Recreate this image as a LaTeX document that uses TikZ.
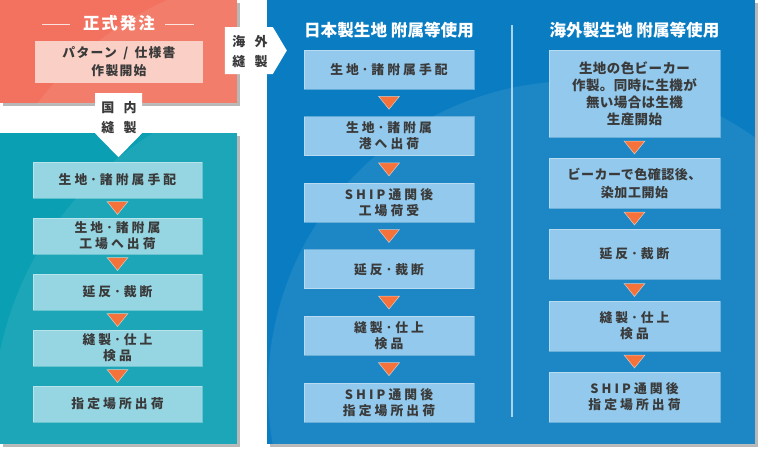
\documentclass[tikz,border=0pt]{standalone}
\usepackage{fontspec}
\setmainfont{Noto Sans CJK JP}
\usetikzlibrary{positioning,calc,shadows}

\definecolor{redbg}{HTML}{F2725F}
\definecolor{redin}{HTML}{FAD0C6}
\definecolor{tealbg}{HTML}{0A9FB3}
\definecolor{tealin}{HTML}{95D6E2}
\definecolor{bluebg}{HTML}{0A7DC2}
\definecolor{bluein}{HTML}{92C9EC}
\definecolor{trifill}{HTML}{F5733A}
\definecolor{textgray}{HTML}{3A3A3A}
\definecolor{shadowgray}{HTML}{B8B8B8}
\definecolor{divline}{HTML}{A9D3F0}

\newcommand{\boxfont}{\fontsize{12.8}{16}\selectfont\bfseries\addfontfeature{LetterSpace=24}}
\newcommand{\titlefont}{\fontsize{16.6}{18}\selectfont\bfseries}
\newcommand{\tagfont}{\fontsize{13}{20}\selectfont\bfseries\addfontfeature{LetterSpace=70}}

\tikzset{
  panel/.style={inner sep=0pt, drop shadow={shadow xshift=3pt, shadow yshift=-3pt, fill=shadowgray, opacity=1}},
  stepbox/.style={inner sep=0pt, text=textgray, font=\boxfont, align=center, draw=white, draw opacity=0.35, line width=0.8pt},
  tealbox/.style={stepbox, fill=tealin, minimum width=169pt, minimum height=36pt},
  bluebox/.style={stepbox, fill=bluein, minimum width=170pt, minimum height=39pt},
  seabox/.style={stepbox, fill=bluein, minimum width=171pt},
  downtri/.style={fill=trifill, draw=white, draw opacity=0.6, line width=0.5pt},
  tag/.style={fill=white},
  taglabel/.style={text=textgray, font=\tagfont, align=center, inner sep=0pt},
  shine/.style={fill=white, fill opacity=0.08}
}

\begin{document}
\begin{tikzpicture}[x=1pt, y=-1pt]
\useasboundingbox (0,0) rectangle (760,450);

% panels
\node[panel, fill=bluebg, minimum width=488pt, minimum height=444pt] (sea) at (511,222) {};
\node[panel, fill=tealbg, minimum width=237pt, minimum height=311pt] (home) at (118.5,288.5) {};
\node[panel, fill=redbg, minimum width=237pt, minimum height=103pt] (order) at (118.5,51.5) {};

\begin{scope}
\clip (sea.north west) rectangle (sea.south east);
\fill[shine] (577,390) circle (309);
\end{scope}
\begin{scope}
\clip (home.north west) rectangle (home.south east);
\fill[shine] (330,420) circle (337);
\end{scope}
\begin{scope}
\clip (order.north west) rectangle (order.south east);
\fill[shine] (300,300) circle (328);
\end{scope}

% order
\node[text=white, font=\fontsize{16.5}{18}\selectfont\bfseries\addfontfeature{LetterSpace=12}] (ordertitle) at (119,23) {正式発注};
\draw[white, opacity=0.8, line width=0.6pt] (42,24) -- (70,24);
\draw[white, opacity=0.8, line width=0.6pt] (165,24) -- (194,24);
\node[stepbox, fill=redin, draw=none, minimum width=168pt, minimum height=42pt, font=\fontsize{12.8}{18.5}\selectfont\bfseries\addfontfeature{LetterSpace=10}] (pattern) at (119,61.5) {パターン\hspace{0.5em}/\hspace{0.5em}仕様書\\作製開始};

% domestic
\node[tealbox] (h1) at (117.5,180) {生地･諸附属手配};
\node[tealbox] (h2) at (117.5,236) {生地･諸附属\\工場へ出荷};
\node[tealbox] (h3) at (117.5,292) {延反･裁断};
\node[tealbox] (h4) at (117.5,348) {縫製･仕上\\検品};
\node[tealbox] (h5) at (117.5,404) {指定場所出荷};

% overseas, japanese fabric
\node[text=white, font=\titlefont] (jtitle) at (389,30) {日本製生地 附属等使用};
\node[bluebox] (j1) at (389,69.5) {生地･諸附属手配};
\node[bluebox] (j2) at (389,136.1) {生地･諸附属\\港へ出荷};
\node[bluebox] (j3) at (389,202.7) {SHIP通関後\\工場荷受};
\node[bluebox] (j4) at (389,269.3) {延反･裁断};
\node[bluebox] (j5) at (389,335.9) {縫製･仕上\\検品};
\node[bluebox] (j6) at (389,402.5) {SHIP通関後\\指定場所出荷};

% overseas, foreign fabric
\node[text=white, font=\titlefont] (ftitle) at (634.5,30) {海外製生地 附属等使用};
\node[seabox, minimum height=87pt, font=\fontsize{13.5}{17}\selectfont\bfseries\addfontfeature{LetterSpace=3}] (f1) at (634.5,93.5) {生地の色ビーカー\\作製。同時に生機が\\無い場合は生機\\生産開始};
\node[seabox, minimum height=50pt, font=\fontsize{13}{18}\selectfont\bfseries\addfontfeature{LetterSpace=4}] (f2) at (634.5,183) {ビーカーで色確認後、\\染加工開始};
\node[seabox, minimum height=50pt] (f3) at (634.5,254) {延反･裁断};
\node[seabox, minimum height=50pt] (f4) at (634.5,326) {縫製･仕上\\検品};
\node[seabox, minimum height=50pt] (f5) at (634.5,397) {SHIP通関後\\指定場所出荷};

\coordinate (divtop) at (512,25);
\coordinate (divbot) at (512,417);
\draw[divline, line width=1.5pt] (divtop) -- (divbot);

% orange steps
\foreach \a/\b in {h1/h2, h2/h3, h3/h4, h4/h5, j1/j2, j2/j3, j3/j4, j4/j5, j5/j6, f1/f2, f2/f3, f3/f4, f4/f5}
  \draw[downtri] ($(\a.south)!0.5!(\b.north)$) +(-10.5,-6.5) -- +(10.5,-6.5) -- +(0,6.5) -- cycle;

% white tags
\fill[tag] (order.south) ++(-23.5,-10) -- ++(47,0) -- ++(0,40) -- ++(-23.5,24) -- ++(-23.5,-24) -- cycle;
\node[taglabel] (domtag) at (119,118) {国内\\縫製};
\fill[tag] (sea.west) ++(-42,-195) -- ++(48,0) -- ++(14,23.5) -- ++(-14,23.5) -- ++(-48,0) -- cycle;
\node[taglabel] (seatag) at (250,51.5) {海外\\縫製};

\end{tikzpicture}
\end{document}
